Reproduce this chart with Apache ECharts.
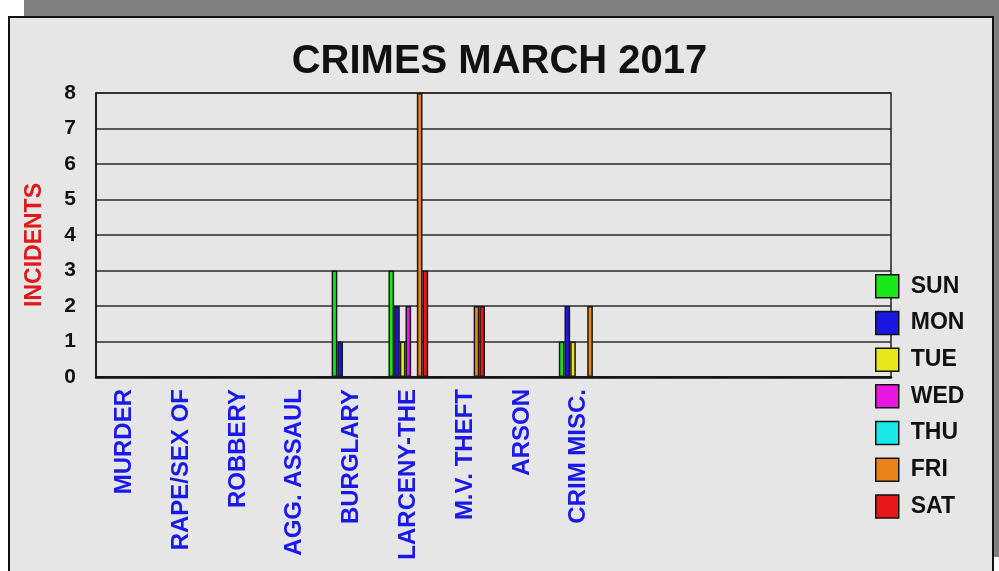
<!DOCTYPE html>
<html>
<head>
<meta charset="utf-8">
<script src="https://cdn.jsdelivr.net/npm/echarts@6/dist/echarts.min.js"></script>
<style>
html,body{margin:0;padding:0;background:#ffffff;}
#chart{width:999px;height:571px;}
</style>
</head>
<body>
<div id="chart"></div>
<script>
const categories = ['MURDER','RAPE/SEX OF','ROBBERY','AGG. ASSAUL','BURGLARY','LARCENY-THE','M.V. THEFT','ARSON','CRIM MISC.','','','','',''];
const seriesNames = ['SUN','MON','TUE','WED','THU','FRI','SAT'];
const sun = [0,0,0,0,3,3,0,0,1,0,0,0,0,0];
const mon = [0,0,0,0,1,2,0,0,2,0,0,0,0,0];
const tue = [0,0,0,0,0,1,0,0,1,0,0,0,0,0];
const wed = [0,0,0,0,0,2,0,0,0,0,0,0,0,0];
const thu = [0,0,0,0,0,0,0,0,0,0,0,0,0,0];
const fri = [0,0,0,0,0,8,2,0,2,0,0,0,0,0];
const sat = [0,0,0,0,0,3,2,0,0,0,0,0,0,0];
const yTicks = [0,1,2,3,4,5,6,7,8];
const colors = ['#18e818','#1818e0','#e8e818','#e818e0','#18e8e8','#e8841c','#e81818'];

const values = [sun,mon,tue,wed,thu,fri,sat];
const FONT = 'Arial, "Liberation Sans", sans-serif';

const chart = echarts.init(document.getElementById('chart'), null, {renderer:'canvas'});
chart.setOption({
  animation:false,
  backgroundColor:'#ffffff',
  graphic:[
    {type:'rect', z:-10, shape:{x:24,y:0,width:975,height:557}, style:{fill:'#808080'}},
    {type:'rect', z:-9, shape:{x:9,y:17,width:984,height:580}, style:{fill:'#e6e6e6', stroke:'#111', lineWidth:2}}
  ],
  title:{
    text:'CRIMES MARCH 2017',
    left:'center', top:37,
    textStyle:{fontFamily:FONT, fontWeight:'bold', fontSize:40, color:'#111'}
  },
  legend:{
    orient:'vertical', left:875, top:274, padding:0,
    itemWidth:23, itemHeight:23, itemGap:12.2,
    icon:'rect',
    data:seriesNames,
    textStyle:{fontFamily:FONT, fontWeight:'bold', fontSize:23, lineHeight:23, color:'#111', padding:[0,0,0,7]},
    itemStyle:{borderColor:'#111', borderWidth:1.5}
  },
  grid:{
    left:96, top:93, right:108, bottom:194,
    show:true, backgroundColor:'#e6e6e6', borderColor:'#222', borderWidth:1.5
  },
  xAxis:{
    type:'category',
    data:categories,
    axisLine:{show:true, lineStyle:{color:'#111', width:2.5}},
    axisTick:{show:false},
    axisLabel:{
      rotate:90, margin:12, interval:0,
      fontFamily:FONT, fontWeight:'bold', fontSize:24, color:'#1a1ae8'
    }
  },
  yAxis:{
    type:'value', min:yTicks[0], max:yTicks[yTicks.length-1], interval:1,
    name:'INCIDENTS', nameLocation:'middle', nameRotate:90, nameGap:50,
    nameTextStyle:{fontFamily:FONT, fontWeight:'bold', fontSize:23, color:'#e01818', padding:[0,20,0,0]},
    axisLine:{show:true, lineStyle:{color:'#111', width:1.5}},
    axisTick:{show:false},
    axisLabel:{margin:20, fontFamily:FONT, fontWeight:'bold', fontSize:21, color:'#111'},
    splitLine:{show:true, lineStyle:{color:'#2a2a2a', width:1.5}}
  },
  series: seriesNames.map((n,i)=>({
    name:n, type:'bar', data:values[i],
    barGap:'0%', barCategoryGap:'30%',
    itemStyle:{color:colors[i], borderColor:'#1a1a1a', borderWidth:1.5}
  }))
});
</script>
</body>
</html>
